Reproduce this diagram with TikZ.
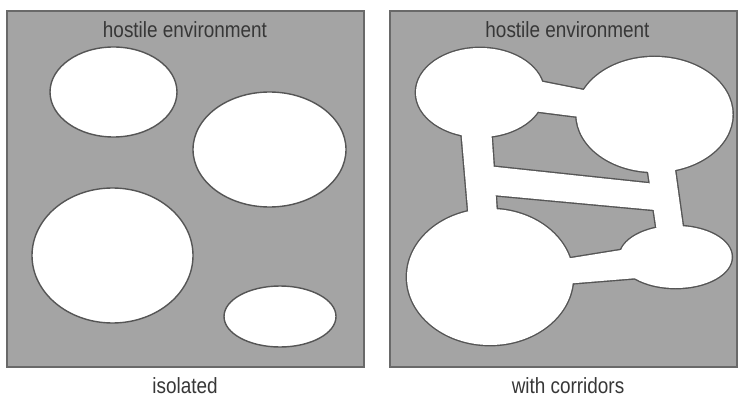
\documentclass[tikz,border=0pt]{standalone}
\usepackage{fontspec}
\setmainfont{Liberation Sans}[FakeStretch=0.86]
\definecolor{envgray}{RGB}{164,164,164}
\definecolor{boxline}{RGB}{105,105,105}
\definecolor{holeline}{RGB}{85,85,85}
\definecolor{txtcol}{RGB}{55,55,55}
\begin{document}
\begin{tikzpicture}[x=1pt,y=-1pt,
  env/.style={fill=envgray,draw=boxline,line width=1.8pt},
  holeedge/.style={draw=holeline,line width=2.8pt},
  holefill/.style={fill=white},
  isohole/.style={fill=white,draw=holeline,line width=1.4pt},
  lbl/.style={font=\fontsize{22}{26}\selectfont,text=txtcol,anchor=base,inner sep=0pt}]
\useasboundingbox (0,0) rectangle (738,398);
\fill[white] (0,0) rectangle (738,398);
% panels
\draw[env] (7,11) rectangle (364,367);
\draw[env] (390,11) rectangle (737,367);
% isolated holes
\path[isohole] (113.5,92) ellipse [x radius=63.5pt, y radius=45pt];
\path[isohole] (269.5,149.5) ellipse [x radius=76.5pt, y radius=57.5pt];
\path[isohole] (112.5,255.5) ellipse [x radius=80.5pt, y radius=67.5pt];
\path[isohole] (280,316.5) ellipse [x radius=56pt, y radius=30.5pt];
% connected holes with corridors
\def\hubpaths{%
  \path[\hubstyle] (480,92.5) ellipse [x radius=64pt, y radius=44.5pt];
  \path[\hubstyle] (654.5,114.5) ellipse [x radius=78pt, y radius=57.5pt];
  \path[\hubstyle] (490,277) ellipse [x radius=83pt, y radius=68pt];
  \path[\hubstyle] (675.7,257) ellipse [x radius=56pt, y radius=31pt];
  \path[\hubstyle] (525,78.4) -- (592,91.7) -- (592,118.5) -- (525,110) -- cycle;
  \path[\hubstyle] (460.4,120) -- (490.5,120) -- (497.7,225) -- (469.4,225) -- cycle;
  \path[\hubstyle] (480,165.3) -- (665,185.0) -- (665,210.9) -- (480,193.8) -- cycle;
  \path[\hubstyle] (644.9,150) -- (672.2,150) -- (685.4,245) -- (658.9,245) -- cycle;
  \path[\hubstyle] (550,261.5) -- (645,246.2) -- (645,277.4) -- (550,285.1) -- cycle;
}
\def\hubstyle{holeedge}\hubpaths
\def\hubstyle{holefill}\hubpaths
% labels
\node[lbl] (titleL) at (185,38) {hostile environment};
\node[lbl] (titleR) at (567.5,38) {hostile environment};
\node[lbl] (capL) at (185,393) {isolated};
\node[lbl] (capR) at (568,393) {with corridors};
\end{tikzpicture}
\end{document}
